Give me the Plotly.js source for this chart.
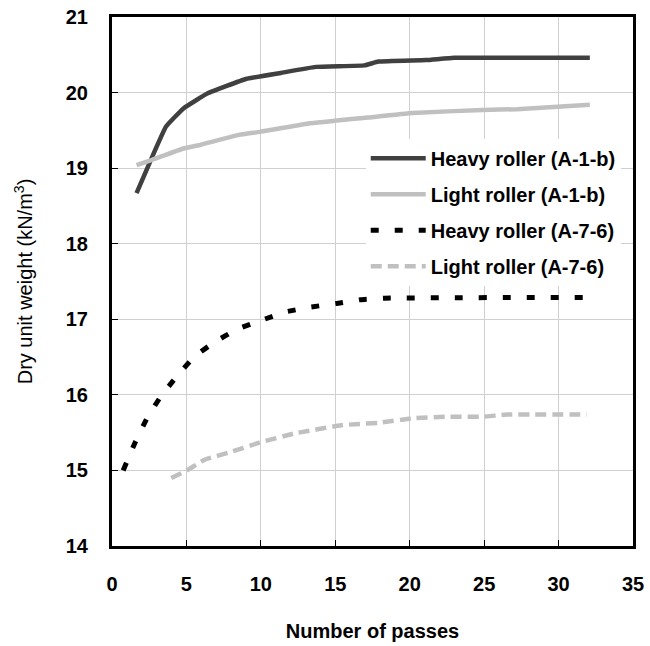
<!DOCTYPE html>
<html>
<head>
<meta charset="utf-8">
<script src="https://cdn.plot.ly/plotly-3.0.1.min.js"></script>
<style>html,body{margin:0;padding:0;background:#fff;}#chart{width:650px;height:646px;}</style>
</head>
<body>
<div id="chart"></div>
<script>
// Heavy roller (A-1-b)
const heavyA1bX = [1.65, 2.7, 3.63, 4.8, 6.43, 9.0, 11.34, 13.7, 16.95, 17.9, 21.1, 23.0, 32.1];
const heavyA1bY = [18.67, 19.15, 19.55, 19.79, 19.99, 20.18, 20.26, 20.34, 20.36, 20.41, 20.43, 20.46, 20.46];
// Light roller (A-1-b)
const lightA1bX = [1.65, 2.7, 4.8, 5.97, 8.53, 9.94, 13.2, 17.2, 20.2, 24.9, 27.2, 32.1];
const lightA1bY = [19.04, 19.11, 19.26, 19.31, 19.44, 19.48, 19.59, 19.67, 19.73, 19.77, 19.78, 19.84];
// Heavy roller (A-7-6)
const heavyA76X = [0.75, 1.53, 2.35, 3.28, 4.33, 5.5, 6.9, 8.42, 9.94, 11.7, 13.3, 15.1, 16.7, 18.3, 32.1];
const heavyA76Y = [15.0, 15.36, 15.69, 15.98, 16.24, 16.5, 16.7, 16.87, 16.98, 17.1, 17.16, 17.21, 17.26, 17.28, 17.29];
// Light roller (A-7-6)
const lightA76X = [3.98, 5.03, 6.2, 8.07, 9.94, 12.27, 15.5, 17.9, 20.2, 22.55, 24.9, 26.5, 31.9];
const lightA76Y = [14.9, 15.0, 15.14, 15.25, 15.37, 15.49, 15.6, 15.63, 15.69, 15.71, 15.71, 15.74, 15.74];

const seriesNames = ["Heavy roller (A-1-b)", "Light roller (A-1-b)", "Heavy roller (A-7-6)", "Light roller (A-7-6)"];
const xTicks = [0, 5, 10, 15, 20, 25, 30, 35];
const yTicks = [14, 15, 16, 17, 18, 19, 20, 21];

const FONT = "Liberation Sans, Arial, sans-serif";

const traces = [
  {x: heavyA1bX, y: heavyA1bY, name: seriesNames[0], legendgroup: "a", mode: "lines",
   line: {color: "#404040", width: 4.5, shape: "spline", smoothing: 0.3}},
  {x: lightA1bX, y: lightA1bY, name: seriesNames[1], legendgroup: "b", mode: "lines",
   line: {color: "#c0c0c0", width: 4.5, shape: "spline", smoothing: 0.3}},
  {x: heavyA76X, y: heavyA76Y, name: seriesNames[2], legendgroup: "c", mode: "lines",
   line: {color: "#000000", width: 5, dash: "8px,16px", shape: "spline", smoothing: 0.3}},
  {x: lightA76X, y: lightA76Y, name: seriesNames[3], legendgroup: "d", mode: "lines",
   line: {color: "#c0c0c0", width: 4.5, dash: "11px,6px", shape: "spline", smoothing: 0.3}}
];

const layout = {
  width: 650, height: 646,
  margin: {l: 112, r: 17, t: 17, b: 100},
  paper_bgcolor: "#fff", plot_bgcolor: "#fff",
  font: {family: FONT, size: 20, color: "#000"},
  showlegend: true,
  legend: {
    x: 0.487, y: 0.77, xanchor: "left", yanchor: "top",
    bgcolor: "#fff", borderwidth: 0,
    font: {family: FONT, size: 20, color: "#000", weight: "bold"},
    traceorder: "grouped", tracegroupgap: 7, itemwidth: 55
  },
  xaxis: {
    range: [0, 35], tickvals: xTicks, ticktext: xTicks.map(String),
    showgrid: true, gridcolor: "#d0d0d0", gridwidth: 1,
    ticks: "inside", ticklen: 6, tickcolor: "#000", tickwidth: 1,
    showline: true, linecolor: "#000", linewidth: 3, mirror: true,
    zeroline: false, ticklabelstandoff: 18,
    tickfont: {family: FONT, size: 20, color: "#000", weight: "bold"},
    title: {text: "Number of passes", standoff: 30, font: {family: FONT, size: 20, color: "#000", weight: "bold"}}
  },
  yaxis: {
    range: [14, 21], tickvals: yTicks, ticktext: yTicks.map(String),
    showgrid: true, gridcolor: "#d0d0d0", gridwidth: 1,
    ticks: "inside", ticklen: 6, tickcolor: "#000", tickwidth: 1,
    showline: true, linecolor: "#000", linewidth: 3, mirror: true,
    zeroline: false, ticklabelstandoff: 17,
    tickfont: {family: FONT, size: 20, color: "#000", weight: "bold"},
    title: {text: "Dry unit weight (kN/m<sup>3</sup>)", standoff: 28, font: {family: FONT, size: 20, color: "#000"}}
  }
};

Plotly.newPlot("chart", traces, layout, {displayModeBar: false, staticPlot: true});
</script>
</body>
</html>
